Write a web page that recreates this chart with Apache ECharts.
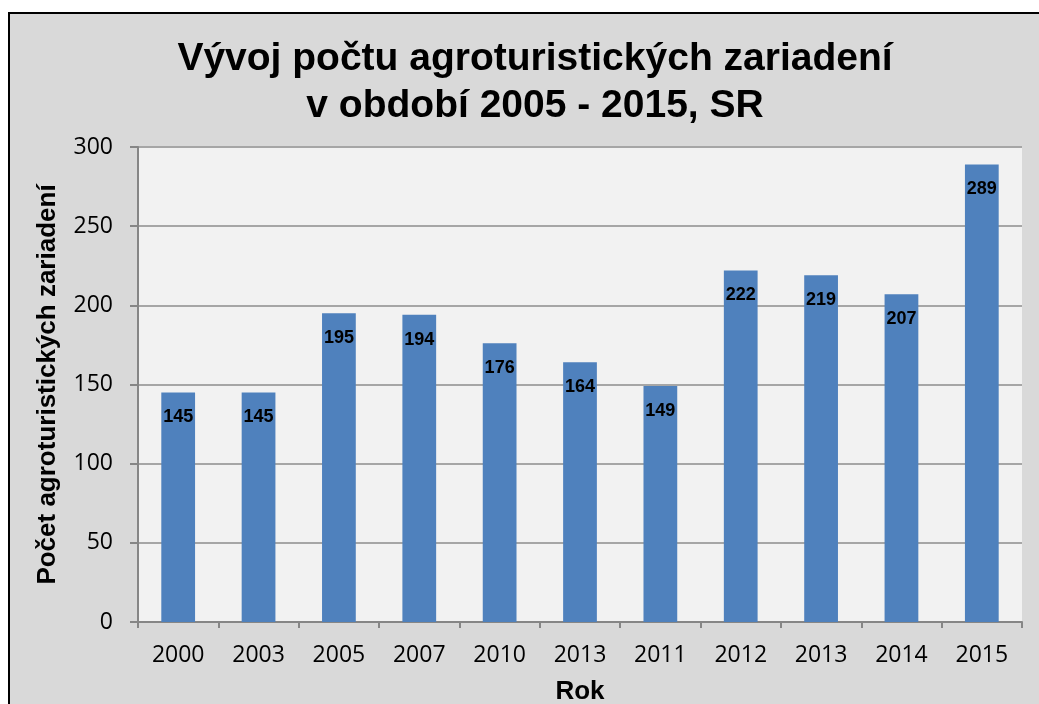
<!DOCTYPE html>
<html lang="sk">
<head>
    <meta charset="UTF-8">
    <title>Vývoj počtu agroturistických zariadení</title>
    <script src="https://cdn.jsdelivr.net/npm/echarts@6/dist/echarts.min.js"></script>
    <style>
        html, body { margin: 0; padding: 0; background: #fff; }
        #main { width: 1039px; height: 704px; }
    </style>
</head>
<body>
<div id="main"></div>
<script>
    var roky = ['2000', '2003', '2005', '2007', '2010', '2013', '2011', '2012', '2013', '2014', '2015'];
    var pocty = [145, 145, 195, 194, 176, 164, 149, 222, 219, 207, 289];

    var chart = echarts.init(document.getElementById('main'));
    var option = {
        backgroundColor: '#ffffff',
        animation: false,
        graphic: [{
            type: 'rect',
            z: -10,
            shape: {x: 9, y: 13, width: 1040, height: 700},
            style: {fill: '#d9d9d9', stroke: '#000000', lineWidth: 2}
        }],
        title: {
            text: 'Vývoj počtu agroturistických zariadení\nv období 2005 - 2015, SR',
            left: 530,
            top: 31,
            textAlign: 'center',
            textStyle: {
                fontFamily: '"Liberation Sans", Arial, sans-serif',
                fontSize: 39,
                fontWeight: 'bold',
                color: '#000',
                lineHeight: 47
            }
        },
        grid: {
            left: 138,
            right: 17,
            top: 147,
            bottom: 82,
            outerBoundsMode: 'none',
            containLabel: false,
            show: true,
            backgroundColor: '#f2f2f2',
            borderWidth: 0
        },
        xAxis: {
            type: 'category',
            data: roky,
            name: 'Rok',
            nameLocation: 'middle',
            nameGap: 57,
            nameTextStyle: {
                fontFamily: '"Liberation Sans", Arial, sans-serif',
                fontSize: 26,
                fontWeight: 'bold',
                color: '#000'
            },
            axisLine: {lineStyle: {color: '#868686', width: 2}},
            axisTick: {show: true, length: 6, lineStyle: {color: '#868686', width: 2}},
            axisLabel: {
                margin: 22,
                fontFamily: '"Open Sans", "Noto Sans", sans-serif',
                fontSize: 23,
                color: '#000'
            }
        },
        yAxis: {
            type: 'value',
            min: 0,
            max: 300,
            interval: 50,
            name: 'Počet agroturistických zariadení',
            nameLocation: 'middle',
            nameGap: 77,
            nameTextStyle: {
                fontFamily: '"Liberation Sans", Arial, sans-serif',
                fontSize: 26,
                fontWeight: 'bold',
                color: '#000'
            },
            axisLine: {show: true, lineStyle: {color: '#868686', width: 2}},
            axisTick: {show: true, length: 8, lineStyle: {color: '#868686', width: 2}},
            splitLine: {lineStyle: {color: '#a6a6a6', width: 2}},
            axisLabel: {
                margin: 25,
                fontFamily: '"Open Sans", "Noto Sans", sans-serif',
                fontSize: 23,
                color: '#000'
            }
        },
        series: [{
            name: 'Počet',
            type: 'bar',
            data: pocty,
            barWidth: '42%',
            itemStyle: {color: '#4f81bd'},
            label: {
                show: true,
                position: 'insideTop',
                distance: 16,
                fontFamily: '"Liberation Sans", Arial, sans-serif',
                fontSize: 18,
                fontWeight: 'bold',
                color: '#000'
            }
        }]
    };
    chart.setOption(option);
</script>
</body>
</html>
